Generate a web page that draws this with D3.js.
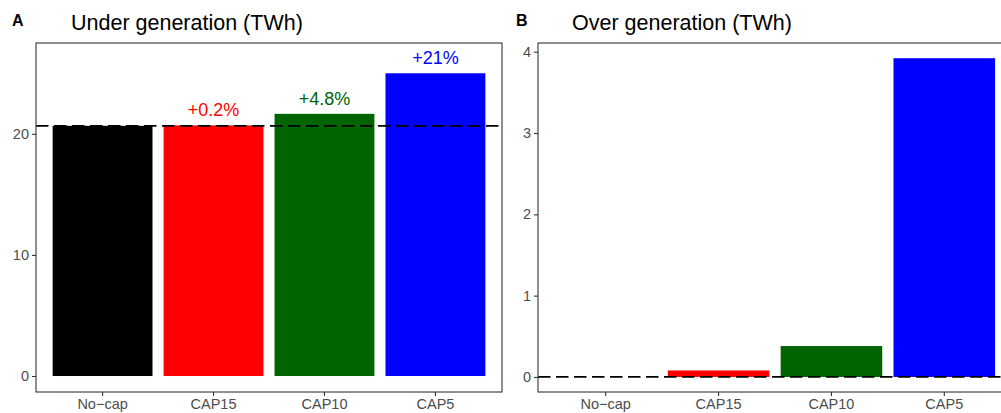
<!DOCTYPE html>
<html>
<head>
<meta charset="utf-8">
<script src="https://cdn.jsdelivr.net/npm/d3@7"></script>
<style>
  body { margin: 0; background: #fff; }
  text { font-family: "Liberation Sans", Arial, sans-serif; }
</style>
</head>
<body>
<div id="chart"></div>
<script>
// values
const scenarios = ["No-cap", "CAP15", "CAP10", "CAP5"];
const barColors = ["#000000", "#FF0000", "#006400", "#0000FF"];
const underGen = [20.66, 20.70, 21.65, 25.0];
const underLabels = ["", "+0.2%", "+4.8%", "+21%"];
const overGen = [0, 0.08, 0.38, 3.92];
const underTicks = [0, 10, 20];
const overTicks = [0, 1, 2, 3, 4];
const underRef = 20.66;
const overRef = 0;

const W = 1001, H = 413;

const svg = d3.select("#chart")
    .append("svg")
    .attr("width", W)
    .attr("height", H);

function drawPanel(opt) {
    const x = d3.scaleBand()
        .domain(scenarios)
        .range([opt.left, opt.right])
        .paddingInner(0.1)
        .paddingOuter(0.15);

    const y = d3.scaleLinear()
        .domain(opt.yDomain)
        .range([opt.bottom, opt.top]);

    const g = svg.append("g");

    // bars
    g.selectAll("rect.bar")
        .data(opt.values)
        .enter().append("rect")
        .attr("class", "bar")
        .attr("x", (d, i) => x(scenarios[i]))
        .attr("width", x.bandwidth())
        .attr("y", d => y(Math.max(d, 0)))
        .attr("height", d => Math.abs(y(0) - y(d)))
        .attr("fill", (d, i) => barColors[i]);

    // percentage labels
    if (opt.labels) {
        g.selectAll("text.lab")
            .data(opt.values)
            .enter().append("text")
            .attr("class", "lab")
            .attr("x", (d, i) => x(scenarios[i]) + x.bandwidth() / 2)
            .attr("y", d => y(d) - 9)
            .attr("text-anchor", "middle")
            .style("font-size", "18px")
            .attr("fill", (d, i) => barColors[i])
            .text((d, i) => opt.labels[i]);
    }

    // reference line
    g.append("line")
        .attr("x1", opt.left)
        .attr("x2", opt.right)
        .attr("y1", y(opt.ref))
        .attr("y2", y(opt.ref))
        .attr("stroke", "#000")
        .attr("stroke-width", 1.7)
        .attr("stroke-dasharray", "12.5,5.5");

    // panel border
    g.append("rect")
        .attr("x", opt.left)
        .attr("y", opt.top)
        .attr("width", opt.right - opt.left)
        .attr("height", opt.bottom - opt.top)
        .attr("fill", "none")
        .attr("stroke", "#333333")
        .attr("stroke-width", 1.1);

    // axes
    const yAxis = g.append("g")
        .attr("transform", `translate(${opt.left},0)`)
        .call(d3.axisLeft(y).tickValues(opt.ticks).tickFormat(d3.format("d"))
            .tickSize(4).tickPadding(3));
    const xAxis = g.append("g")
        .attr("transform", `translate(0,${opt.bottom})`)
        .call(d3.axisBottom(x).tickSize(4).tickPadding(3));

    [yAxis, xAxis].forEach(a => {
        a.select(".domain").remove();
        a.selectAll(".tick line").attr("stroke", "#333333").attr("stroke-width", 1.1);
        a.selectAll(".tick text")
            .attr("fill", "#4d4d4d")
            .style("font-size", "14.5px")
            .style("font-family", '"Liberation Sans", Arial, sans-serif');
    });
    xAxis.selectAll(".tick text").text(d => d.replace("-", "\u2212"));

    // titles
    svg.append("text")
        .attr("x", opt.tagX)
        .attr("y", 26)
        .style("font-size", "16px")
        .style("font-weight", "bold")
        .text(opt.tag);
    svg.append("text")
        .attr("x", opt.titleX)
        .attr("y", 30)
        .style("font-size", "21.5px")
        .attr("fill", "#000")
        .text(opt.title);
}

drawPanel({
    left: 36, right: 502, top: 43, bottom: 392,
    yDomain: [-1.32, 27.5],
    values: underGen, labels: underLabels, ref: underRef, ticks: underTicks,
    tag: "A", tagX: 12, title: "Under generation (TWh)", titleX: 71
});

drawPanel({
    left: 538, right: 1012, top: 43, bottom: 392,
    yDomain: [-0.185, 4.107],
    values: overGen, labels: null, ref: overRef, ticks: overTicks,
    tag: "B", tagX: 516, title: "Over generation (TWh)", titleX: 572
});
</script>
</body>
</html>
